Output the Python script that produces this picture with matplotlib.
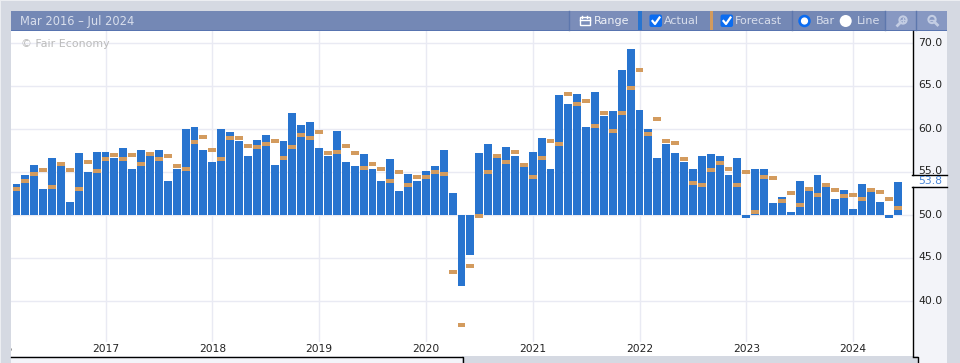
import matplotlib
matplotlib.use("Agg")
import matplotlib.pyplot as plt
from matplotlib.patches import Rectangle, Circle, FancyBboxPatch
import numpy as np

# monthly values, Mar 2016 onwards
actual = [53.5, 54.65, 55.8, 53.0, 56.6, 55.6, 51.5, 57.2, 54.9, 57.3,
          57.3, 56.6, 57.7, 55.35, 57.55, 56.75, 57.55, 53.95, 55.35, 59.9,
          60.2, 57.55, 56.05, 60.0, 59.65, 58.6, 56.85, 58.7, 59.2, 55.8,
          58.6, 61.75, 60.45, 60.8, 57.7, 56.85, 59.75, 56.15, 55.6, 57.0,
          55.25, 53.85, 56.5, 52.7, 54.75, 53.95, 55.1, 55.6, 57.45, 52.55,
          41.7, 45.3, 57.2, 58.25, 56.6, 57.9, 56.75, 55.6, 57.3, 58.85,
          55.35, 63.85, 62.8, 64.05, 60.2, 64.2, 61.5, 62.0, 66.85, 69.2,
          62.1, 60.0, 56.6, 58.25, 57.2, 56.05, 55.35, 56.85, 57.0, 56.85,
          54.55, 56.6, 49.55, 55.35, 55.25, 51.3, 52.0, 50.35, 53.95, 52.8,
          54.65, 53.7, 51.85, 52.8, 50.7, 53.5, 52.65, 51.5, 49.55, 53.8]
forecast = [53.0, 53.95, 54.77, 55.2, 53.15, 55.9, 55.2, 53.0, 56.05, 55.1,
            56.5, 56.9, 56.4, 56.9, 55.9, 57.0, 56.4, 56.75, 55.7, 55.35,
            58.4, 59.05, 57.45, 56.4, 58.85, 58.85, 58.0, 57.8, 58.15, 58.5,
            56.6, 57.9, 59.2, 58.95, 59.55, 57.1, 57.3, 58.0, 57.1, 55.45,
            55.9, 55.35, 53.85, 55.0, 53.4, 54.4, 54.4, 55.0, 54.75, 43.3,
            37.2, 44.0, 49.8, 54.9, 56.85, 56.15, 57.3, 55.8, 54.4, 56.6,
            58.6, 58.15, 64.05, 62.9, 63.25, 60.35, 61.75, 59.75, 61.75, 64.75,
            66.85, 59.4, 61.05, 58.5, 58.35, 56.4, 53.7, 53.4, 55.2, 55.95,
            55.35, 53.4, 54.9, 50.35, 54.4, 54.2, 51.6, 52.45, 51.15, 53.0,
            52.3, 53.4, 52.9, 52.1, 52.3, 51.85, 52.9, 52.65, 51.85, 50.8]
year_labels = ["2016", "2017", "2018", "2019", "2020", "2021", "2022", "2023", "2024"]
y_ticks = [40.0, 45.0, 50.0, 55.0, 60.0, 65.0, 70.0]

W, H = 960, 363
BAR = "#2874cf"
FC = "#d39b5e"
GRID = "#e9eaf3"
PANEL = "#f3f4f9"
plt.rcParams["font.family"] = "DejaVu Sans"

fig = plt.figure(figsize=(W / 100, H / 100), dpi=100, facecolor="#d5d9e2")


def box(l, t, r, b):
    # pixel box to figure fractions
    return [l / W, 1 - b / H, (r - l) / W, (b - t) / H]


# page furniture in pixel coords
bg = fig.add_axes([0, 0, 1, 1])
bg.set_xlim(0, W)
bg.set_ylim(H, 0)
bg.axis("off")
bg.add_patch(Rectangle((0, 0), W, 1, fc="#eceef2", ec="none"))
bg.add_patch(Rectangle((0, 0), 1, H, fc="#eceef2", ec="none"))
bg.add_patch(Rectangle((912, 31), 35, 332, fc=PANEL, ec="none"))
bg.add_patch(Rectangle((11, 356), 451, 7, fc=PANEL, ec="none"))
bg.add_patch(Rectangle((462, 356), 456, 7, fc="#d5d9e2", ec="none"))

ax = fig.add_axes(box(11, 31, 912.5, 356))
x = np.arange(len(actual))
ax.set_xlim(-0.618, 100.67)
ax.set_ylim(33.55, 71.34)
ax.set_facecolor("white")
for s in ["top", "left", "bottom", "right"]:
    ax.spines[s].set_visible(False)

ticks = [-2 + 12 * i for i in range(len(year_labels))]
ax.hlines(y_ticks, -1, 101, color=GRID, lw=1, zorder=0)
ax.vlines(ticks[1:], 0.0, 80, color=GRID, lw=1, zorder=0)
ax.add_patch(Rectangle((0, 0), 1, 14 / 325, transform=ax.transAxes, fc="white", ec="none", zorder=0.5))

# width leaves one pixel between neighbours once snapped (8.9 px a month)
bar_w = 1 - 1 / 8.9
ax.bar(x, np.array(actual) - 50, bottom=50, width=bar_w, color=BAR, zorder=2)
ax.bar(x, 4 / 8.6, bottom=np.array(forecast) - 2 / 8.6, width=bar_w, color=FC, zorder=3)

ax.set_xticks([])
ax.set_yticks([])
for t, lab in zip(ticks, year_labels):
    ax.annotate(lab, (t, 0), xycoords=("data", "axes fraction"), xytext=(0, 7), textcoords="offset pixels",
                ha="center", va="center", fontsize=7.7, color="#222222", annotation_clip=False, clip_on=True)
ax.text(0.011, 1 - 13 / 325, "© Fair Economy", transform=ax.transAxes, fontsize=7.9, color="#bbbbbb", va="center")

# toolbar, y axis panel and toolbar widgets go on top
fg = fig.add_axes([0, 0, 1, 1])
fg.set_xlim(0, W)
fg.set_ylim(H, 0)
fg.axis("off")
fg.patch.set_alpha(0)

fg.add_patch(Rectangle((913, 175.5), 34, 10.5, fc="white", ec="none"))
fg.plot([912.5, 912.5], [31, 175], color="black", lw=1)
fg.plot([912.5, 912.5], [186.5, 356], color="black", lw=1)
fg.plot([912, 947], [175, 175], color="black", lw=1)
fg.plot([912, 947], [186.5, 186.5], color="black", lw=1)
fg.plot([11, 462.5, 462.5], [356.5, 356.5, 363], color="black", lw=1)
fg.plot([912.5, 917.5, 917.5], [356.5, 356.5, 363], color="black", lw=1)
for v in y_ticks:
    py = 214.5 - (v - 50) * 8.6
    fg.text(918, py, f"{v:.1f}", fontsize=7.8, color="#222222", va="center", ha="left")
fg.text(918, 181, "53.8", fontsize=7.8, color="#4a86d8", va="center", ha="left")

fg.add_patch(Rectangle((11, 11), 936, 20, fc="#7488b5", ec="none"))
fg.add_patch(Rectangle((11, 30), 936, 1, fc="#5874b0", ec="none"))
fg.add_patch(Rectangle((569, 11), 69, 19, fc="#7b8db9", ec="none"))
fg.add_patch(Rectangle((638, 11), 4, 19, fc=BAR, ec="none"))
fg.add_patch(Rectangle((710, 11), 3, 19, fc=FC, ec="none"))
fg.add_patch(Rectangle((885, 11), 31, 19, fc="#8798c2", ec="none"))
fg.add_patch(Rectangle((917, 11), 30, 19, fc="#8798c2", ec="none"))
for sx in [569, 792, 885, 916]:
    fg.plot([sx, sx], [11, 30], color="#5d77ad", lw=1)

LABEL = "#d8deec"
fg.text(20, 21, "Mar 2016 – Jul 2024", fontsize=8.3, color=LABEL, va="center")
fg.text(594, 21.5, "Range", fontsize=8.0, color="#eef1f7", va="center")
fg.text(664, 21.5, "Actual", fontsize=8.0, color=LABEL, va="center")
fg.text(735, 21.5, "Forecast", fontsize=8.0, color=LABEL, va="center")
fg.text(816, 21.5, "Bar", fontsize=8.0, color=LABEL, va="center")
fg.text(857, 21.5, "Line", fontsize=8.0, color=LABEL, va="center")

# calendar icon
fg.add_patch(Rectangle((579.5, 17), 10, 8, fc="none", ec="white", lw=1))
fg.plot([579.5, 589.5], [19.5, 19.5], color="white", lw=1)
fg.plot([582, 582], [15.5, 17.5], color="white", lw=1)
fg.plot([587, 587], [15.5, 17.5], color="white", lw=1)

# checkboxes
for cx in [649.5, 720.5]:
    fg.add_patch(FancyBboxPatch((cx + 1, 15.5), 10.5, 10.5, boxstyle="round,pad=1,rounding_size=2", fc="#0b6cf0", ec="none"))
    fg.plot([cx + 3, cx + 5.5, cx + 10], [21, 24, 17.5], color="white", lw=1.6)

# radios
fg.add_patch(Circle((804.5, 21), 4.7, fc="#7488b5", ec="#0b6cf0", lw=2.2))
fg.add_patch(Circle((804.5, 21), 3.6, fc="white", ec="none"))
fg.add_patch(Circle((845.7, 21), 6, fc="white", ec="none"))

# zoom icons
ICON = "#c3cde3"
fg.add_patch(Circle((903, 20), 3.6, fc="none", ec=ICON, lw=1.5))
fg.plot([900.5, 897.5], [22.5, 25.5], color=ICON, lw=2)
fg.plot([901, 905], [20, 20], color=ICON, lw=1)
fg.plot([903, 903], [18, 22], color=ICON, lw=1)
fg.add_patch(Circle((932, 19.5), 3.6, fc="none", ec=ICON, lw=1.5))
fg.plot([934.5, 937.5], [22, 25], color=ICON, lw=2)
fg.plot([930, 934], [19.5, 19.5], color=ICON, lw=1)

fig.savefig("out.png", dpi=100, facecolor=fig.get_facecolor())
